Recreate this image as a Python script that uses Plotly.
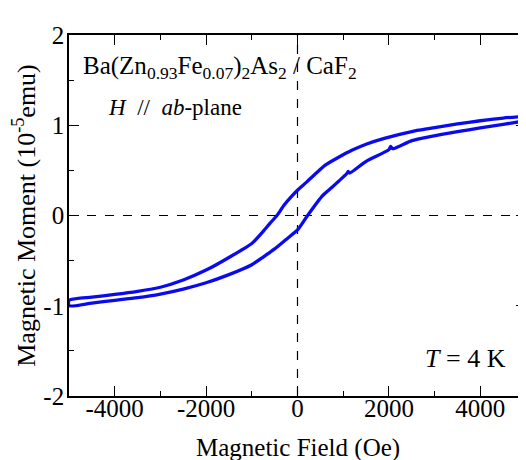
import plotly.graph_objects as go

# Descending branch (upper), listed with increasing field
upper_field = [-5000, -4500, -4000, -3500, -3000, -2500, -2000, -1500, -1000, -750, -600, -450, -300, -150, 0,
               200, 400, 600, 900, 1200, 1500, 1900, 2500, 2900, 3500, 4000, 4500, 5000]
upper_moment = [-0.94, -0.905, -0.875, -0.84, -0.795, -0.715, -0.605, -0.465, -0.31, -0.175, -0.085, 0.0, 0.11, 0.2, 0.28,
                0.37, 0.465, 0.555, 0.645, 0.725, 0.79, 0.855, 0.93, 0.965, 1.015, 1.05, 1.08, 1.10]

# Ascending branch (lower)
lower_field = [-5000, -4500, -4000, -3500, -3000, -2500, -2000, -1500, -1000, -750, -500, -250, 0, 220,
               530, 750, 900, 1080, 1110, 1140, 1500, 2000, 2040, 2080, 2500, 2900, 3500, 4000, 4500, 5000]
lower_moment = [-1.00, -0.97, -0.94, -0.91, -0.87, -0.815, -0.745, -0.655, -0.545, -0.46, -0.37, -0.265, -0.16, 0.0,
                0.21, 0.31, 0.38, 0.465, 0.49, 0.47, 0.60, 0.73, 0.765, 0.74, 0.83, 0.875, 0.93, 0.97, 1.01, 1.05]

x_tick_vals = [-4000, -2000, 0, 2000, 4000]
x_tick_text = ["-4000", "-2000", "0", "2000", "4000"]
y_tick_vals = [-2, -1, 0, 1, 2]
y_tick_text = ["-2", "-1", "0", "1", "2"]
x_title = "Magnetic Field (Oe)"
y_title = "Magnetic Moment (10<sup>-5</sup>emu)"

loop_x = upper_field[::-1] + lower_field
loop_y = upper_moment[::-1] + lower_moment

FONT = "Liberation Serif"

fig = go.Figure()
fig.add_trace(go.Scatter(x=loop_x, y=loop_y, mode="lines",
                         line=dict(color="#0a0af0", width=3.3, shape="spline", smoothing=0.6),
                         showlegend=False))

fig.add_shape(type="line", xref="x", yref="y", x0=0, x1=0, y0=-2, y1=2,
              line=dict(color="black", width=1.2, dash="dash"), layer="below")
fig.add_shape(type="line", xref="x", yref="y", x0=-5000, x1=5000, y0=0, y1=0,
              line=dict(color="black", width=1.2, dash="dash"), layer="below")

axis_common = dict(showgrid=False, zeroline=False, showline=True, linecolor="black", linewidth=1.6,
                   ticks="inside", ticklen=10, tickwidth=1.2, tickcolor="black", mirror="allticks",
                   automargin=False,
                   tickfont=dict(family=FONT, size=25, color="black"))

fig.update_xaxes(range=[-5000, 5000], tickvals=x_tick_vals, ticktext=x_tick_text, ticklabelstandoff=-11,
                 minor=dict(dtick=1000, tick0=0, ticks="inside", ticklen=5, tickcolor="black", tickwidth=1.2),
                 **axis_common)
fig.update_yaxes(range=[-2, 2], tickvals=y_tick_vals, ticktext=y_tick_text, ticklabelstandoff=-2,
                 minor=dict(dtick=0.5, tick0=0, ticks="inside", ticklen=5, tickcolor="black", tickwidth=1.2),
                 title=dict(text=y_title, font=dict(family=FONT, size=26, color="black"), standoff=10),
                 **axis_common)

# x-axis title placed as an annotation so it can sit at the bottom edge as in the reference
fig.add_annotation(x=0.5, y=0, xref="paper", yref="paper", xanchor="center", yanchor="middle",
                   yshift=-52, showarrow=False, text=x_title,
                   font=dict(family=FONT, size=25, color="black"))

fig.add_annotation(x=-4730, y=1.64, xref="x", yref="y", xanchor="left", yanchor="middle", showarrow=False,
                   text="Ba(Zn<sub>0.93</sub>Fe<sub>0.07</sub>)<sub>2</sub>As<sub>2</sub> / CaF<sub>2</sub>",
                   font=dict(family=FONT, size=25, color="black"))
fig.add_annotation(x=-4200, y=1.2, xref="x", yref="y", xanchor="left", yanchor="middle", showarrow=False,
                   text="<i>H</i>\u2002//\u2002<i>ab</i>-plane", font=dict(family=FONT, size=23, color="black"))
fig.add_annotation(x=4600, y=-1.58, xref="x", yref="y", xanchor="right", yanchor="middle", showarrow=False,
                   text="<i>T</i> = 4 K", font=dict(family=FONT, size=26, color="black"))

# page body has an 8px default margin, so the figure is sized to end at the window edge
fig.update_layout(width=518, height=452, margin=dict(l=61, r=0, t=27, b=64),
                  font=dict(family=FONT, size=25, color="black"),
                  paper_bgcolor="white", plot_bgcolor="white")

fig.write_html("out.html")
